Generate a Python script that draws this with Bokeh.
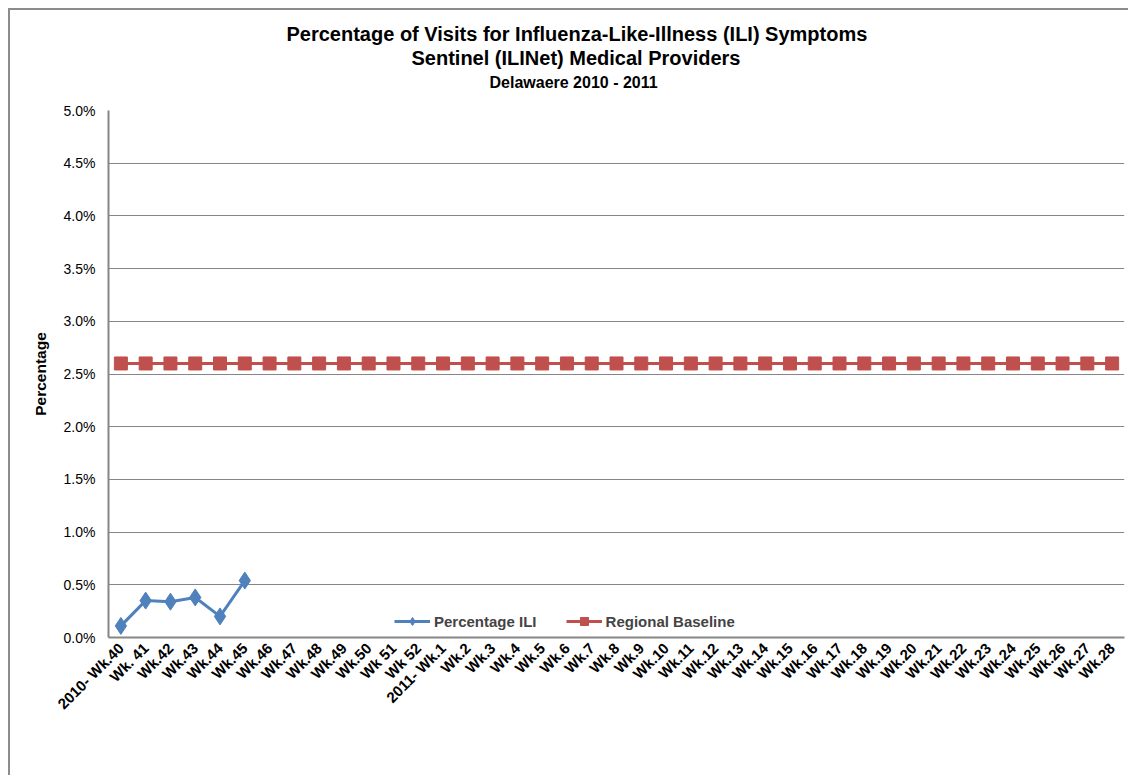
from bokeh.plotting import figure
from bokeh.models import (FactorRange, Range1d, FixedTicker, PrintfTickFormatter,
                          Title, Legend, LegendItem, ColumnDataSource)
from bokeh.embed import file_html
from bokeh.resources import INLINE
from math import pi

weeks = ["2010- Wk.40", "Wk. 41", "Wk.42", "Wk.43", "Wk.44", "Wk.45", "Wk.46", "Wk.47",
         "Wk.48", "Wk.49", "Wk.50", "Wk 51", "Wk 52", "2011- Wk.1", "Wk.2", "Wk.3", "Wk.4",
         "Wk.5", "Wk.6", "Wk.7", "Wk.8", "Wk.9", "Wk.10", "Wk.11", "Wk.12", "Wk.13", "Wk.14",
         "Wk.15", "Wk.16", "Wk.17", "Wk.18", "Wk.19", "Wk.20", "Wk.21", "Wk.22", "Wk.23",
         "Wk.24", "Wk.25", "Wk.26", "Wk.27", "Wk.28"]
ili_weeks = weeks[:6]
ili_values = [0.11, 0.35, 0.34, 0.38, 0.20, 0.54]
baseline_values = [2.6] * len(weeks)
y_ticks = [0.0, 0.5, 1.0, 1.5, 2.0, 2.5, 3.0, 3.5, 4.0, 4.5, 5.0]
title_lines = ["Percentage of Visits for Influenza-Like-Illness (ILI) Symptoms",
               "Sentinel (ILINet) Medical Providers",
               "Delawaere  2010 - 2011"]

BLUE = "#4F81BD"
RED = "#C0504D"
GRID = "#868686"
SANS = "'Liberation Sans', Arial, sans-serif"

p = figure(frame_width=1016, frame_height=527, x_range=FactorRange(*weeks, range_padding=0),
           y_range=Range1d(0, 5), output_backend="svg", toolbar_location=None,
           min_border_left=98, min_border_top=100, min_border_right=4, min_border_bottom=138)
p.styles = {"margin-left": "8px", "margin-top": "8px",
            "border-left": "2px solid #8c8c8c", "border-top": "2px solid #8c8c8c"}
p.outline_line_color = None
p.background_fill_color = "white"
p.border_fill_color = "white"

p.xgrid.grid_line_color = None
p.ygrid.grid_line_color = GRID
p.ygrid.grid_line_width = 1
p.yaxis.ticker = FixedTicker(ticks=y_ticks)
p.yaxis.formatter = PrintfTickFormatter(format="%.1f%%")

for ax in (p.xaxis[0], p.yaxis[0]):
    ax.axis_line_color = GRID
    ax.axis_line_width = 2
    ax.major_tick_in = 0
    ax.major_tick_out = 0
    ax.minor_tick_in = 0
    ax.minor_tick_out = 0
    ax.major_label_text_font = SANS
    ax.major_label_text_color = "black"

p.yaxis.major_label_text_font_size = "14px"
p.yaxis.major_label_standoff = 13
p.yaxis.axis_label = "Percentage"
p.yaxis.axis_label_text_font = SANS
p.yaxis.axis_label_text_font_style = "bold"
p.yaxis.axis_label_text_font_size = "15.5px"
p.yaxis.axis_label_text_color = "black"
p.yaxis.axis_label_standoff = 12

p.xaxis.major_label_orientation = pi / 4
p.xaxis.major_label_text_font_size = "15px"
p.xaxis.major_label_text_font_style = "bold"
p.xaxis.major_label_standoff = 8

src_b = ColumnDataSource(dict(x=weeks, y=baseline_values))
src_i = ColumnDataSource(dict(x=ili_weeks, y=ili_values))

bl = p.line("x", "y", source=src_b, line_color=RED, line_width=3)
bm = p.scatter("x", "y", source=src_b, marker="square", size=13, fill_color=RED, line_color=RED)
il = p.line("x", "y", source=src_i, line_color=BLUE, line_width=3)
im = p.scatter("x", "y", source=src_i, marker="diamond", size=17, fill_color=BLUE, line_color=BLUE)

# titles: first added sits closest to the frame
for txt, fs, off, so in [(title_lines[2] + "\n", "16px", 381, 6),
                         (title_lines[1], "20px", 303, 0),
                         (title_lines[0], "20px", 178, 0)]:
    p.add_layout(Title(text=txt, align="left", offset=off, text_font=SANS,
                       text_font_style="bold", text_font_size=fs, text_color="black",
                       standoff=so), "above")

legend = Legend(items=[LegendItem(label="Percentage ILI", renderers=[il, im]),
                       LegendItem(label="Regional Baseline", renderers=[bl, bm])],
                orientation="horizontal", location=(286, 6),
                label_text_font=SANS, label_text_font_style="bold",
                label_text_font_size="15px", glyph_width=36, glyph_height=20,
                spacing=29, padding=4, margin=0, label_standoff=4,
                border_line_color=None, background_fill_alpha=0)
p.add_layout(legend, "center")

open("out.html", "w").write(file_html(p, INLINE))
